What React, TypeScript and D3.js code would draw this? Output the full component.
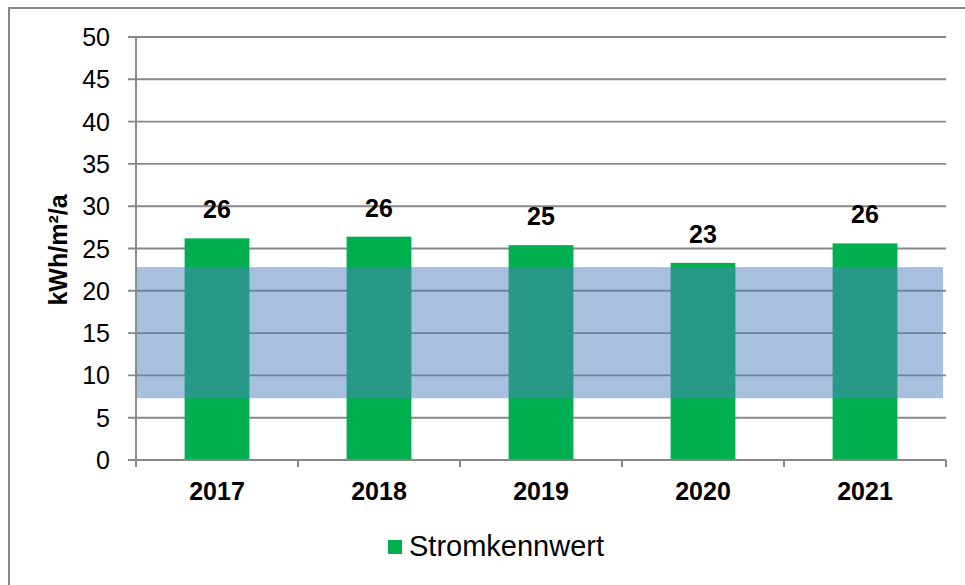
import * as d3 from 'd3';

// Chart data
const years = ['2017', '2018', '2019', '2020', '2021'];
const stromkennwert = [26.2, 26.4, 25.4, 23.3, 25.6];
const yTicks = [0, 5, 10, 15, 20, 25, 30, 35, 40, 45, 50];
const targetBand = [7.3, 22.8];
const seriesName = 'Stromkennwert';
const yTitle = 'kWh/m²/a';

const W = 965;
const H = 585;
const M = { left: 136, right: 946, top: 37, bottom: 460 };
const FONT = '"Liberation Sans", Arial, sans-serif';
const GREEN = '#00b050';
const GRID = '#878787';

export default function App() {
  const x = d3
    .scaleBand<string>()
    .domain(years)
    .range([M.left, M.right])
    .paddingInner(0.6)
    .paddingOuter(0.3);
  const y = d3.scaleLinear().domain([0, 50]).range([M.bottom, M.top]);

  // category boundaries for x ticks
  const step = (M.right - M.left) / years.length;
  const xTickPos = d3.range(years.length + 1).map((i) => M.left + i * step);

  return (
    <div style={{ position: 'absolute', left: 0, top: 0 }}>
      <svg width={W} height={H} style={{ display: 'block', background: '#fff' }}>
        {/* outer frame */}
        <rect x={9} y={8} width={1000} height={600} fill="#fff" stroke={GRID} strokeWidth={2} />

        {/* gridlines + y ticks */}
        {yTicks.map((t) => (
          <line key={'g' + t} x1={128} x2={M.right} y1={y(t)} y2={y(t)} stroke={GRID} strokeWidth={1.9} />
        ))}
        {yTicks.map((t) => (
          <text
            key={'t' + t}
            x={110}
            y={y(t)}
            dy="0.36em"
            textAnchor="end"
            fontFamily={FONT}
            fontSize={25}
            fill="#000"
          >
            {t}
          </text>
        ))}

        {/* bars */}
        {years.map((yr, i) => (
          <rect
            key={'b' + yr}
            x={x(yr)}
            width={x.bandwidth()}
            y={y(stromkennwert[i])}
            height={y(0) - y(stromkennwert[i])}
            fill={GREEN}
          />
        ))}

        {/* target band, semi-transparent over bars */}
        <rect
          x={M.left}
          width={M.right - 3 - M.left}
          y={y(targetBand[1])}
          height={y(targetBand[0]) - y(targetBand[1])}
          fill="#4f81bd"
          fillOpacity={0.5}
        />

        {/* axes */}
        <line x1={M.left} x2={M.left} y1={M.top} y2={M.bottom} stroke={GRID} strokeWidth={1.9} />
        <line x1={M.left} x2={M.right} y1={M.bottom} y2={M.bottom} stroke={GRID} strokeWidth={1.9} />
        {xTickPos.map((p, i) => (
          <line key={'xt' + i} x1={p} x2={p} y1={M.bottom} y2={M.bottom + 7} stroke={GRID} strokeWidth={1.9} />
        ))}

        {/* bar value labels */}
        {years.map((yr, i) => (
          <text
            key={'l' + yr}
            x={(x(yr) ?? 0) + x.bandwidth() / 2}
            y={y(stromkennwert[i]) - 20}
            textAnchor="middle"
            fontFamily={FONT}
            fontWeight="bold"
            fontSize={25}
            fill="#000"
          >
            {Math.round(stromkennwert[i])}
          </text>
        ))}

        {/* x labels */}
        {years.map((yr) => (
          <text
            key={'x' + yr}
            x={(x(yr) ?? 0) + x.bandwidth() / 2}
            y={500}
            textAnchor="middle"
            fontFamily={FONT}
            fontWeight="bold"
            fontSize={25}
            fill="#000"
          >
            {yr}
          </text>
        ))}

        {/* y title */}
        <text
          transform={`translate(67,250) rotate(-90)`}
          textAnchor="middle"
          fontFamily={FONT}
          fontWeight="bold"
          fontSize={25}
          fill="#000"
        >
          {yTitle}
        </text>

        {/* legend */}
        <rect x={388} y={540} width={14} height={14} fill={GREEN} />
        <text x={409} y={556} fontFamily={FONT} fontSize={29} fill="#000">
          {seriesName}
        </text>
      </svg>
    </div>
  );
}
